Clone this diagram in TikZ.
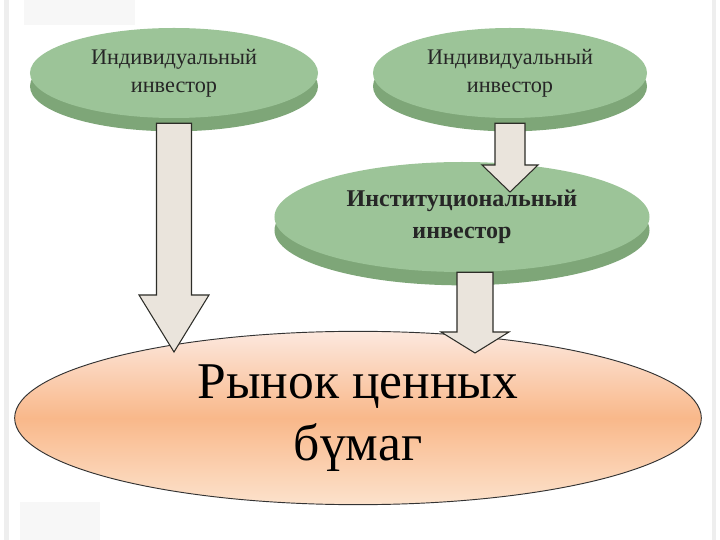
\documentclass[tikz,border=0pt]{standalone}
\usepackage{fontspec}
\setmainfont{Liberation Serif}
\usetikzlibrary{calc,shapes.geometric,shadows}
\definecolor{investgreen}{RGB}{156,196,152}
\definecolor{investshade}{RGB}{126,166,120}
\definecolor{markettop}{RGB}{252,232,222}
\definecolor{marketmid}{RGB}{249,184,138}
\definecolor{marketbot}{RGB}{252,226,204}
\definecolor{arrowfill}{RGB}{234,228,220}
\definecolor{arrowline}{RGB}{45,45,40}
\definecolor{slidegray}{RGB}{238,238,238}

% block arrow: top centre, tip, shaft half width, head half width, head length
\newcommand{\fatarrow}[5]{%
  \draw[arrowline, line width=0.9pt, fill=arrowfill, line join=miter]
    ($(#1)+(-#3,0)$) -- ($(#2)+(-#3,-#5)$) -- ($(#2)+(-#4,-#5)$) -- (#2)
    -- ($(#2)+(#4,-#5)$) -- ($(#2)+(#3,-#5)$) -- ($(#1)+(#3,0)$) -- cycle;}

\begin{document}
\begin{tikzpicture}[x=0.03cm, y=-0.03cm,
  investor/.style={ellipse, fill=investgreen, minimum width=8.64cm, minimum height=2.7cm,
    inner sep=0pt, align=center, text=black!85, font=\fontsize{19}{24}\selectfont,
    drop shadow={shadow xshift=0pt, shadow yshift=-0.4cm, fill=investshade, opacity=1}},
  market/.style={ellipse, draw=black!80, line width=0.8pt, top color=markettop,
    bottom color=marketbot, middle color=marketmid, minimum width=20.6cm,
    minimum height=5.2cm, inner sep=0pt, align=center, font=\fontsize{44}{53}\selectfont}]
  \useasboundingbox (0,0) rectangle (720,540);

  % slide edges
  \fill[slidegray] (4,0) rectangle (9,540);
  \fill[slidegray] (712,0) rectangle (716,540);
  \fill[slidegray!50] (24,0) rectangle (135,25);
  \fill[slidegray!50] (20,502) rectangle (100,540);

  \node[investor] (ind1) at (174,73) {Индивидуальный\\инвестор};
  \node[investor, minimum width=8.22cm] (ind2) at (510,73) {Индивидуальный\\инвестор};
  \node[investor, minimum width=11.25cm, minimum height=3.3cm,
    font=\bfseries\fontsize{20.5}{27}\selectfont] (inst) at (462,217) {Институциональный\\инвестор};
  \node[market] (market) at (358,418) {Рынок ценных\\бүмаг};

  \coordinate (tip1) at (174,352);
  \coordinate (tip2) at (510,192);
  \coordinate (tip3) at (475,353);

  \fatarrow{$(ind1.south)+(0,5)$}{tip1}{17.5}{35}{57}
  \fatarrow{$(ind2.south)+(0,5)$}{tip2}{15}{28}{27}
  \fatarrow{$(inst.south)+(13,0)$}{tip3}{18}{34}{21}
\end{tikzpicture}
\end{document}
